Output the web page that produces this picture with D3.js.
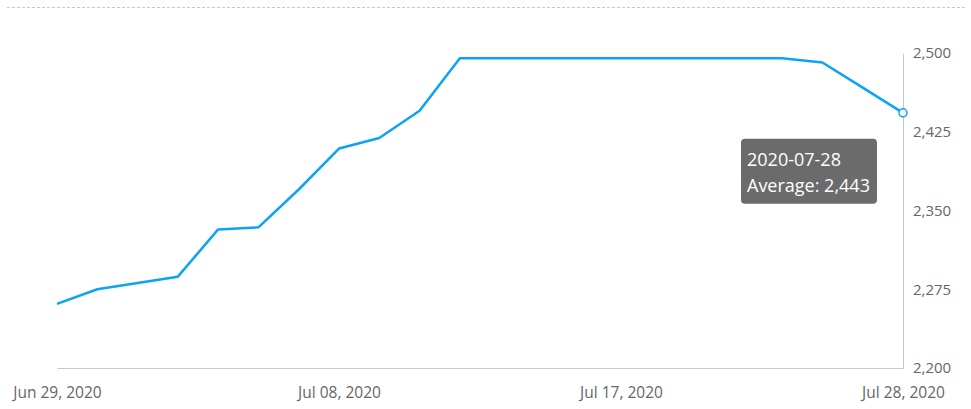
<!DOCTYPE html>
<html lang="en">
<head>
  <meta charset="UTF-8">
  <title>Average</title>
  <style>
    body { margin: 0; background: #fff; }
    text { font-family: "Open Sans", sans-serif; }
  </style>
</head>
<body>
  <script src="https://d3js.org/d3.v7.min.js"></script>
  <svg id="chart" width="971" height="409"></svg>
  <script>
    // business days, Jun 29 - Jul 28 2020
    const dates = ["2020-06-29", "2020-06-30", "2020-07-01", "2020-07-02", "2020-07-03",
      "2020-07-06", "2020-07-07", "2020-07-08", "2020-07-09", "2020-07-10",
      "2020-07-13", "2020-07-14", "2020-07-15", "2020-07-16", "2020-07-17",
      "2020-07-20", "2020-07-21", "2020-07-22", "2020-07-23", "2020-07-24",
      "2020-07-27", "2020-07-28"];
    const average = [2261, 2275, 2281, 2287, 2332, 2334, 2370, 2409, 2419, 2445,
      2495, 2495, 2495, 2495, 2495, 2495, 2495, 2495, 2495, 2491, 2467, 2443];
    const xTicks = ["2020-06-29", "2020-07-08", "2020-07-17", "2020-07-28"];
    const yTicks = [2200, 2275, 2350, 2425, 2500];

    const svg = d3.select("svg#chart");
    const plot = { left: 57, right: 903, top: 53, bottom: 368 };

    const x = d3.scalePoint()
      .domain(dates)
      .range([plot.left, plot.right]);

    const y = d3.scaleLinear()
      .domain([2200, 2500])
      .range([plot.bottom, plot.top]);

    const parse = d3.timeParse("%Y-%m-%d");
    const fmt = d3.timeFormat("%b %d, %Y");

    // dashed line along the top
    svg.append("line")
      .attr("x1", 7).attr("x2", 965)
      .attr("y1", 7.5).attr("y2", 7.5)
      .attr("stroke", "#c8c8c8")
      .attr("stroke-dasharray", "3,2");

    // x axis
    const gx = svg.append("g")
      .attr("transform", "translate(0," + plot.bottom + ")")
      .call(d3.axisBottom(x).tickValues(xTicks).tickSize(0).tickPadding(19)
        .tickFormat(d => fmt(parse(d))));
    gx.select(".domain").attr("stroke", "#c8c8c8");
    gx.selectAll("text").attr("fill", "#666").style("font-size", "15.5px");

    // y axis on the right
    const gy = svg.append("g")
      .attr("transform", "translate(" + plot.right + ",0)")
      .call(d3.axisRight(y).tickValues(yTicks).tickSize(0).tickPadding(10)
        .tickFormat(d3.format(",")));
    gy.select(".domain").attr("stroke", "#c8c8c8");
    gy.selectAll("text").attr("fill", "#666").style("font-size", "15px");

    // the line
    const line = d3.line()
      .x((d, i) => x(dates[i]))
      .y(d => y(d));

    svg.append("path")
      .datum(average)
      .attr("fill", "none")
      .attr("stroke", "#0ea2f5")
      .attr("stroke-width", 2.5)
      .attr("stroke-linejoin", "round")
      .attr("d", line);

    // hovered point
    const last = average.length - 1;
    const px = x(dates[last]), py = y(average[last]);
    svg.append("circle")
      .attr("cx", px).attr("cy", py).attr("r", 4)
      .attr("fill", "#fff")
      .attr("stroke", "#0ea2f5")
      .attr("stroke-width", 1.5);

    // tooltip
    const tip = svg.append("g")
      .attr("transform", "translate(" + (px - 162) + "," + (py + 26) + ")");
    tip.append("rect")
      .attr("width", 136).attr("height", 65)
      .attr("rx", 4)
      .attr("fill", "#6b6b6b");
    tip.append("text")
      .attr("x", 6).attr("y", 27)
      .attr("fill", "#fff")
      .style("font-size", "18px")
      .text(dates[last]);
    tip.append("text")
      .attr("x", 6).attr("y", 53)
      .attr("fill", "#fff")
      .style("font-size", "18px")
      .text("Average: " + d3.format(",")(average[last]));
  </script>
</body>
</html>
